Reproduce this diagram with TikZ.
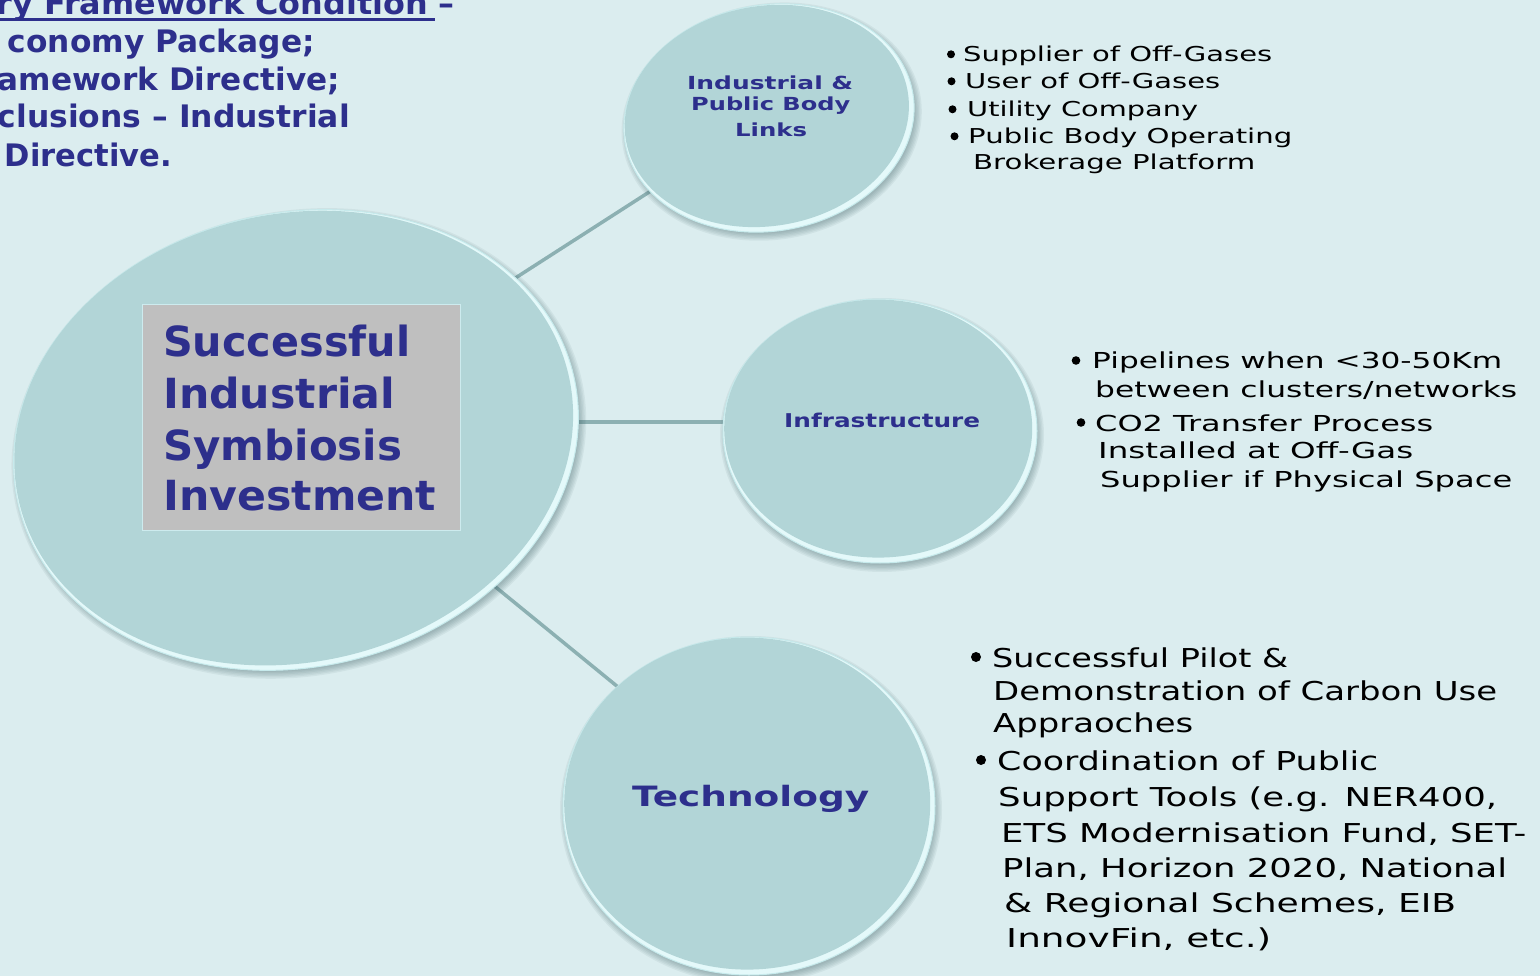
\documentclass[tikz,border=0pt]{standalone}
\usepackage{fontspec}
\setmainfont{DejaVu Sans}
\usetikzlibrary{shapes.geometric}

\definecolor{bgcol}{RGB}{219,237,239}
\definecolor{bodycol}{RGB}{178,213,215}
\definecolor{rimcol}{RGB}{228,249,250}
\definecolor{edgecol}{RGB}{198,234,236}
\definecolor{shadecol}{RGB}{55,90,95}
\definecolor{linkcol}{RGB}{140,176,178}
\definecolor{navy}{RGB}{45,47,140}
\definecolor{boxcol}{RGB}{191,191,191}
\definecolor{boxedge}{RGB}{205,235,238}

\pgfdeclarelayer{back}
\pgfdeclarelayer{links}
\pgfsetlayers{back,links,main}

% stretch a line of text to a given width, keeping its height
\newcommand\fitw[2]{\resizebox{#1pt}{\height}{#2}}
% a shaded disc: centre x, centre y, half axes a and b, tilt
\newcommand\discbody[5]{%
  \begin{scope}[shift={(#1,#2)}, rotate=#5]
    \foreach \k in {0,...,5}
      \fill[shadecol, opacity=0.07] (2,4) ellipse [x radius={#3-2+1.4*\k}, y radius={#4-2+1.4*\k}];
    \fill[rimcol, draw=edgecol, line width=1pt] (0,0) ellipse [x radius=#3, y radius=#4];
    \fill[bodycol] (-1.8,-2.4) ellipse [x radius={#3-3}, y radius={#4-3}];
  \end{scope}}

\begin{document}
\begin{tikzpicture}[x=1pt, y=-1pt,
  discnode/.style={ellipse, inner sep=0pt},
  connector/.style={draw=linkcol, line width=3.5pt},
  dot/.style={fill=black},
  head/.style={inner sep=0pt, anchor=base east, text=navy, font=\bfseries\fontsize{31}{31}\selectfont},
  label/.style={inner sep=0pt, anchor=base west, text=navy, font=\bfseries\fontsize{#1}{#1}\selectfont},
  item/.style={inner sep=0pt, anchor=base west, text=black, font=\fontsize{#1}{#1}\selectfont},
  titlebox/.style={rectangle, inner sep=0pt, fill=boxcol, draw=boxedge, line width=1pt}]

\useasboundingbox (0,0) rectangle (1540,976);
\begin{pgfonlayer}{back}
  \fill[bgcol] (0,0) rectangle (1540,976);
\end{pgfonlayer}
\clip (0,0) rectangle (1540,976);

% discs
\discbody{296}{440}{285}{227}{13}
\discbody{769}{118}{146}{113}{10}
\discbody{880}{431}{157}{132}{0}
\discbody{749}{806}{186}{169}{0}

\node[discnode, minimum width=570pt, minimum height=454pt, rotate=13] (hub) at (296,440) {};
\node[discnode, minimum width=292pt, minimum height=226pt, rotate=10] (links) at (769,118) {};
\node[discnode, minimum width=314pt, minimum height=264pt] (infra) at (880,431) {};
\node[discnode, minimum width=372pt, minimum height=338pt] (tech) at (749,806) {};

% connectors, behind the discs
\begin{pgfonlayer}{links}
  \draw[connector] ([yshift=21pt]hub.center) -- ([yshift=3pt]links.center);
  \draw[connector] ([yshift=18pt]hub.center) -- ([yshift=9pt]infra.center);
  \draw[connector] ([yshift=16pt]hub.center) -- ([yshift=12pt]tech.center);
\end{pgfonlayer}

% heading in the upper left corner
\node[head] (reg1) at (455,15) {\fitw{458}{ry Framework Condition –}};
\draw[navy, line width=2.2pt] ([yshift=-4.5pt]reg1.base west) -- ++(438,0);
\node[head] (reg2) at (315,53) {\fitw{307}{conomy Package;}};
\node[head] (reg3) at (340,91) {\fitw{342}{amework Directive;}};
\node[head] (reg4) at (350,128) {\fitw{352}{clusions – Industrial}};
\node[head] (reg5) at (172,167) {\fitw{167}{Directive.}};

% central title
\node[titlebox, minimum width=318pt, minimum height=225pt] (box) at (301.5,417.5) {};
\node[label=41.5] (h1) at (163,357) {\fitw{247}{Successful}};
\node[label=41.5] (h2) at (163,408) {\fitw{232}{Industrial}};
\node[label=41.5] (h3) at (163,460) {\fitw{239}{Symbiosis}};
\node[label=41.5] (h4) at (163,510) {\fitw{273}{Investment}};

% disc labels
\node[label=18] (l1) at (687,90) {\fitw{166}{Industrial \&}};
\node[label=18] (l2) at (691,111) {\fitw{159}{Public Body}};
\node[label=18] (l3) at (735,137) {\fitw{72}{Links}};
\node[label=19] (inf) at (784,427) {\fitw{196}{Infrastructure}};
\node[label=28] (tec) at (632,806) {\fitw{237}{Technology}};

% links list
\node[item=20.5] (s1) at (963,62) {\fitw{309}{Supplier of Off-Gases}};
\node[item=20.5] (s2) at (965,89) {\fitw{255}{User of Off-Gases}};
\node[item=20.5] (s3) at (967,117) {\fitw{231}{Utility Company}};
\node[item=20.5] (s4) at (968,144) {\fitw{324}{Public Body Operating}};
\node[item=20.5] (s5) at (973,170) {\fitw{282}{Brokerage Platform}};
\fill[dot] ([xshift=-12pt,yshift=7.7pt]s1.base west) circle [radius=4];
\fill[dot] ([xshift=-13.5pt,yshift=7.7pt]s2.base west) circle [radius=4];
\fill[dot] ([xshift=-14.5pt,yshift=7.7pt]s3.base west) circle [radius=4];
\fill[dot] ([xshift=-13.5pt,yshift=7.7pt]s4.base west) circle [radius=4];

% infrastructure list
\node[item=22] (p1) at (1092,369) {\fitw{410}{Pipelines when <30-50Km}};
\node[item=22] (p2) at (1095,397) {\fitw{422}{between clusters/networks}};
\node[item=22] (p3) at (1095,431) {\fitw{338}{CO2 Transfer Process}};
\node[item=22] (p4) at (1098,458) {\fitw{315}{Installed at Off-Gas}};
\node[item=22] (p5) at (1100,487) {\fitw{412}{Supplier if Physical Space}};
\fill[dot] ([xshift=-16pt,yshift=8.5pt]p1.base west) circle [radius=4.3];
\fill[dot] ([xshift=-14pt,yshift=8.5pt]p3.base west) circle [radius=4.3];

% technology list
\node[item=26] (t1) at (992,667) {\fitw{296}{Successful Pilot \&}};
\node[item=26] (t2) at (993,700) {\fitw{504}{Demonstration of Carbon Use}};
\node[item=26] (t3) at (993,732) {\fitw{200}{Appraoches}};
\node[item=26] (t4) at (997,770) {\fitw{381}{Coordination of Public}};
\node[item=26] (t5) at (998,806) {\fitw{499}{Support Tools (e.g. NER400,}};
\node[item=26] (t6) at (1001,842) {\fitw{525}{ETS Modernisation Fund, SET-}};
\node[item=26] (t7) at (1002,877) {\fitw{505}{Plan, Horizon 2020, National}};
\node[item=26] (t8) at (1004,912) {\fitw{452}{\& Regional Schemes, EIB}};
\node[item=26] (t9) at (1006,947) {\fitw{265}{InnovFin, etc.)}};
\fill[dot] ([xshift=-16pt,yshift=10pt]t1.base west) circle [radius=5];
\fill[dot] ([xshift=-16pt,yshift=10pt]t4.base west) circle [radius=5];

\end{tikzpicture}
\end{document}
